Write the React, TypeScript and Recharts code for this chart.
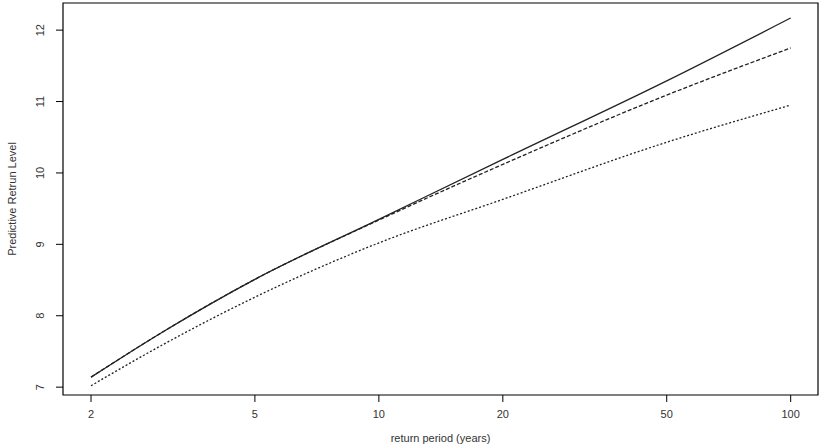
import React from "react";
import { LineChart, Line, XAxis, YAxis, ReferenceArea } from "recharts";

const returnPeriods = [2, 3, 5, 10, 20, 50, 100];
const solidLevel = [7.14, 7.78, 8.51, 9.35, 10.19, 11.29, 12.17];
const dashedLevel = [7.14, 7.78, 8.51, 9.34, 10.12, 11.09, 11.75];
const dottedLevel = [7.02, 7.6, 8.26, 9.02, 9.63, 10.43, 10.95];

const xTicks = [2, 5, 10, 20, 50, 100];
const yTicks = [7, 8, 9, 10, 11, 12];
const xDomain = [1.71, 116.5];
const yDomain = [6.89, 12.38];

const data = returnPeriods.map((t, i) => ({
  t,
  solid: solidLevel[i],
  dashed: dashedLevel[i],
  dotted: dottedLevel[i],
}));

const FONT = "'Liberation Sans', Arial, sans-serif";

const YTick = (props: any) => {
  const { x, y, payload } = props;
  const cx = x - 14;
  return (
    <text
      x={cx}
      y={y}
      transform={`rotate(-90, ${cx}, ${y})`}
      textAnchor="middle"
      dominantBaseline="central"
      fontSize={11}
      fontFamily={FONT}
      fill="#333"
    >
      {payload.value}
    </text>
  );
};

const XTick = (props: any) => {
  const { x, y, payload } = props;
  return (
    <text
      x={x}
      y={y + 10}
      textAnchor="middle"
      dominantBaseline="central"
      fontSize={11}
      fontFamily={FONT}
      fill="#333"
    >
      {payload.value}
    </text>
  );
};

const YLabel = (props: any) => {
  const { viewBox } = props;
  const cx = 12;
  const cy = viewBox.y + viewBox.height / 2;
  return (
    <text
      x={cx}
      y={cy}
      transform={`rotate(-90, ${cx}, ${cy})`}
      textAnchor="middle"
      dominantBaseline="central"
      fontSize={11}
      fontFamily={FONT}
      fill="#333"
    >
      Predictive Retrun Level
    </text>
  );
};

export default function App() {
  return (
    <div style={{ position: "absolute", left: 0, top: 0, background: "#fff" }}>
      <LineChart
        width={833}
        height={448}
        data={data}
        margin={{ top: 3, right: 15, left: 0, bottom: 0 }}
      >
        <XAxis
          dataKey="t"
          type="number"
          scale="log"
          domain={xDomain}
          ticks={xTicks}
          allowDataOverflow
          tickSize={7}
          height={53}
          stroke="#000"
          tick={<XTick />}
          axisLine={false}
          label={{
            value: "return period (years)",
            position: "insideBottom",
            offset: 6,
            fontSize: 11,
            fontFamily: FONT,
            fill: "#333",
          }}
        />
        <YAxis
          type="number"
          domain={yDomain}
          ticks={yTicks}
          allowDataOverflow
          tickSize={7}
          width={63}
          stroke="#000"
          tick={<YTick />}
          axisLine={false}
          label={<YLabel />}
        />
        <ReferenceArea
          x1={xDomain[0]}
          x2={xDomain[1]}
          y1={yDomain[0]}
          y2={yDomain[1]}
          fill="none"
          stroke="#000"
          strokeWidth={1.2}
          ifOverflow="visible"
        />
        <Line
          type="monotone"
          dataKey="dotted"
          stroke="#222"
          strokeWidth={1.3}
          strokeDasharray="2 2"
          dot={false}
          isAnimationActive={false}
        />
        <Line
          type="monotone"
          dataKey="dashed"
          stroke="#222"
          strokeWidth={1.3}
          strokeDasharray="4 2"
          dot={false}
          isAnimationActive={false}
        />
        <Line
          type="monotone"
          dataKey="solid"
          stroke="#222"
          strokeWidth={1.3}
          dot={false}
          isAnimationActive={false}
        />
      </LineChart>
    </div>
  );
}
